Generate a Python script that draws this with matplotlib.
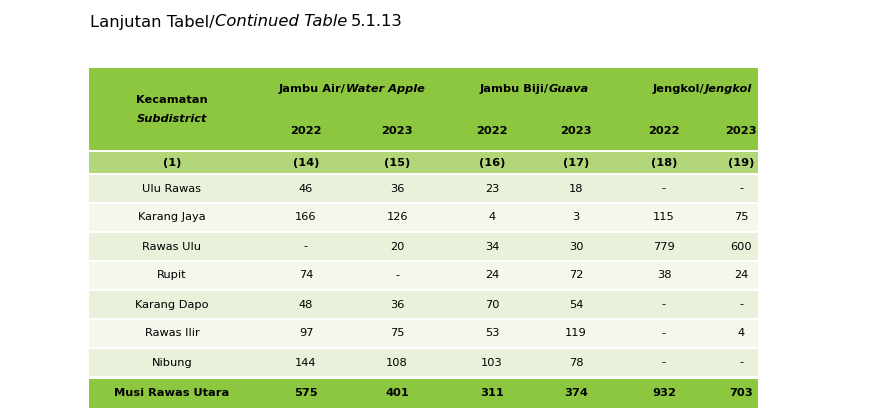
import matplotlib
matplotlib.use("Agg")
import matplotlib.pyplot as plt
from matplotlib.patches import Rectangle

districts = ["Ulu Rawas", "Karang Jaya", "Rawas Ulu", "Rupit", "Karang Dapo", "Rawas Ilir", "Nibung"]
jambu_air_2022 = ["46", "166", "-", "74", "48", "97", "144"]
jambu_air_2023 = ["36", "126", "20", "-", "36", "75", "108"]
jambu_biji_2022 = ["23", "4", "34", "24", "70", "53", "103"]
jambu_biji_2023 = ["18", "3", "30", "72", "54", "119", "78"]
jengkol_2022 = ["-", "115", "779", "38", "-", "-", "-"]
jengkol_2023 = ["-", "75", "600", "24", "-", "4", "-"]
total_label = "Musi Rawas Utara"
totals = ["575", "401", "311", "374", "932", "703"]
col_numbers = ["(1)", "(14)", "(15)", "(16)", "(17)", "(18)", "(19)"]
years = ["2022", "2023"]

FONT = ["Liberation Sans Narrow", "DejaVu Sans"]
FS = 8.2
W, H = 875, 416
fig = plt.figure(figsize=(W/100, H/100), dpi=100)
ax = fig.add_axes([0, 0, 1, 1])
ax.set_xlim(0, W); ax.set_ylim(H, 0); ax.axis("off")

GREEN = "#8dc63f"; LIGHT = "#b3d679"; R1 = "#e9f1db"; R2 = "#f4f8ec"
x0, x1 = 89, 758
xs = [172, 306, 397, 492, 576, 664, 741]

ax.add_patch(Rectangle((x0, 68), x1-x0, 82, color=GREEN, lw=0))
ax.add_patch(Rectangle((x0, 152), x1-x0, 21, color=LIGHT, lw=0))
fig.canvas.draw()
r = fig.canvas.get_renderer()
TF = 11.8
t = ax.text(90, 22, "Lanjutan Tabel/", fontsize=TF, family=FONT, va="center", ha="left")
t2 = ax.text(t.get_window_extent(r).x1, 22, "Continued Table", fontsize=TF, family=FONT, style="italic", va="center", ha="left")
ax.text(t2.get_window_extent(r).x1 + 4, 22, "5.1.13", fontsize=TF, family=FONT, va="center", ha="left")

kw = dict(fontsize=FS, family=FONT, fontweight="bold", va="center", ha="center")
ax.text(xs[0], 100, "Kecamatan", **kw)
ax.text(xs[0], 119, "Subdistrict", style="italic", **kw)
groups = [("Jambu Air/", "Water Apple"), ("Jambu Biji/", "Guava"), ("Jengkol/", "Jengkol")]
for gi, (a, b) in enumerate(groups):
    cx = (xs[1+2*gi] + xs[2+2*gi]) / 2
    ta = ax.text(0, 0, a, alpha=0, **kw); tb = ax.text(0, 0, b, alpha=0, style="italic", **kw)
    wa = ta.get_window_extent(r).width; wb = tb.get_window_extent(r).width
    left = cx - (wa + wb) / 2
    ax.text(left, 89, a, **{**kw, "ha": "left"})
    ax.text(left + wa, 89, b, style="italic", **{**kw, "ha": "left"})
    for yi, y in enumerate(years):
        ax.text(xs[1+2*gi+yi], 131, y, **kw)
for x, c in zip(xs, col_numbers):
    ax.text(x, 162.5, c, **kw)

cols = [districts, jambu_air_2022, jambu_air_2023, jambu_biji_2022, jambu_biji_2023, jengkol_2022, jengkol_2023]
top, pitch = 175, 29
for i in range(len(districts)):
    y = top + i*pitch
    ax.add_patch(Rectangle((x0, y), x1-x0, 27, color=R1 if i % 2 == 0 else R2, lw=0))
    for x, col in zip(xs, cols):
        ax.text(x, y + 13.5, col[i], fontsize=FS, family=FONT, va="center", ha="center")
y = top + len(districts)*pitch + 1
ax.add_patch(Rectangle((x0, y), x1-x0, 29, color=GREEN, lw=0))
for x, v in zip(xs, [total_label] + totals):
    ax.text(x, y + 14.5, v, **kw)

fig.savefig("out.png", dpi=100)
